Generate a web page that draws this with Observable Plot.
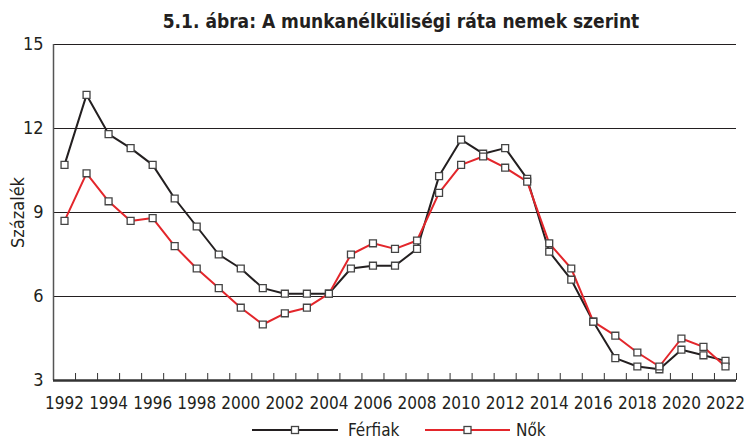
<!DOCTYPE html>
<html>
<head>
<meta charset="utf-8">
<script src="https://cdn.jsdelivr.net/npm/d3@7"></script>
<script src="https://cdn.jsdelivr.net/npm/@observablehq/plot@0.6"></script>
<style>
  body { margin: 0; background: #fff; width: 745px; height: 440px; overflow: hidden; }
  .f { font-family: "Liberation Sans Narrow", "DejaVu Sans Condensed", "Arial Narrow", sans-serif; }
  #title { height: 36px; margin-left: 53px; width: 696px; text-align: center; font-size: 19px; font-weight: bold; color: #231f20; line-height: 42px; }
  #legend { position: absolute; left: 0; top: 418px; width: 745px; height: 22px; }
</style>
</head>
<body>
<div id="title" class="f">5.1. ábra: A munkanélküliségi ráta nemek szerint</div>
<div id="chart"></div>
<div id="legend" class="f"></div>
<script>
const years = d3.range(1992, 2023);
const ferfiak = [10.7, 13.2, 11.8, 11.3, 10.7, 9.5, 8.5, 7.5, 7.0, 6.3, 6.1, 6.1, 6.1, 7.0, 7.1, 7.1, 7.7, 10.3, 11.6, 11.1, 11.3, 10.2, 7.6, 6.6, 5.1, 3.8, 3.5, 3.4, 4.1, 3.9, 3.7];
const nok     = [8.7, 10.4, 9.4, 8.7, 8.8, 7.8, 7.0, 6.3, 5.6, 5.0, 5.4, 5.6, 6.1, 7.5, 7.9, 7.7, 8.0, 9.7, 10.7, 11.0, 10.6, 10.1, 7.9, 7.0, 5.1, 4.6, 4.0, 3.5, 4.5, 4.2, 3.5];
const yTicks = [3, 6, 9, 12, 15];
const xTickLabels = d3.range(1992, 2023, 2);
const seriesNames = ["Férfiak", "Nők"];
const seriesColors = ["#231f20", "#e3262b"];

const rows = [];
years.forEach((y, i) => {
  rows.push({year: y, value: ferfiak[i], s: seriesNames[0]});
  rows.push({year: y, value: nok[i], s: seriesNames[1]});
});
const between = d3.range(1992.5, 2023, 1);

const font = '"Liberation Sans Narrow", "DejaVu Sans Condensed", "Arial Narrow", sans-serif';

const chart = Plot.plot({
  width: 745,
  height: 380,
  marginTop: 8,
  marginLeft: 53,
  marginRight: 9,
  marginBottom: 36,
  style: {fontFamily: font, fontSize: "17px", color: "#231f20", background: "transparent", overflow: "visible"},
  x: {type: "linear", domain: [1991.5, 2022.5]},
  y: {domain: [3, 15]},
  color: {domain: seriesNames, range: seriesColors},
  marks: [
    Plot.gridY(yTicks.slice(1), {stroke: "#231f20", strokeOpacity: 1, strokeWidth: 1}),
    Plot.ruleX([1991.5], {stroke: "#555", strokeWidth: 1.5}),
    Plot.ruleX(between, {x: d => d, y1: 3, y2: 3, insetBottom: 7, stroke: "#333", strokeWidth: 1}),
    Plot.ruleY([3], {stroke: "#333", strokeWidth: 2.5}),
    Plot.axisY({ticks: yTicks, tickSize: 0, tickPadding: 10, fontSize: 18, label: "Százalék", labelAnchor: "center", labelArrow: "none", labelOffset: 42}),
    Plot.axisX({ticks: xTickLabels, tickSize: 0, tickPadding: 16, tickFormat: d => String(d), fontSize: 17, label: null}),
    Plot.line(rows, {x: "year", y: "value", stroke: "s", strokeWidth: 2}),
    Plot.dot(rows, {x: "year", y: "value", symbol: "square", r: 3.9, fill: "white", stroke: "#444", strokeWidth: 1.3})
  ]
});
document.getElementById("chart").appendChild(chart);

// legend
const leg = d3.select("#legend").append("svg").attr("width", 745).attr("height", 22);
const items = [
  {name: seriesNames[0], color: seriesColors[0], x1: 252, x2: 338, tx: 348},
  {name: seriesNames[1], color: seriesColors[1], x1: 425, x2: 510, tx: 516}
];
items.forEach(it => {
  leg.append("line").attr("x1", it.x1).attr("x2", it.x2).attr("y1", 12).attr("y2", 12)
    .attr("stroke", it.color).attr("stroke-width", 2);
  const mx = (it.x1 + it.x2) / 2;
  leg.append("rect").attr("x", mx - 3.5).attr("y", 8.5).attr("width", 7).attr("height", 7)
    .attr("fill", "white").attr("stroke", "#444").attr("stroke-width", 1.3);
  leg.append("text").attr("x", it.tx).attr("y", 18).text(it.name)
    .style("font-family", font).style("font-size", "17px").attr("fill", "#231f20");
});
</script>
</body>
</html>
